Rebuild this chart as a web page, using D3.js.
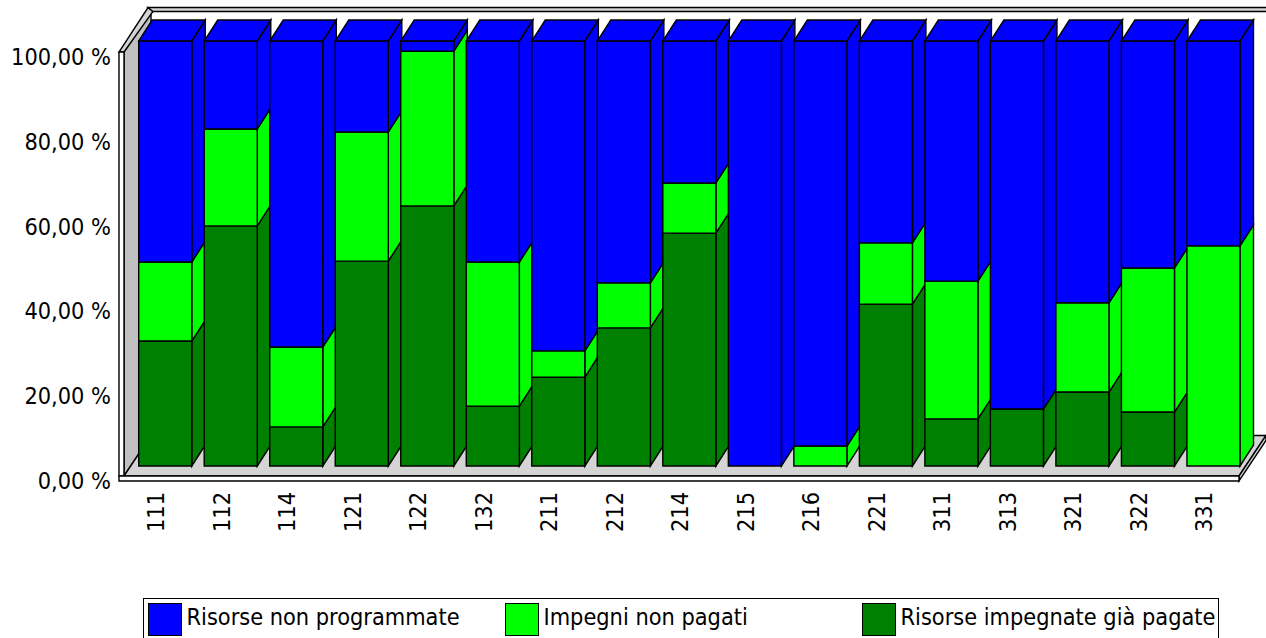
<!DOCTYPE html>
<html lang="en">
<head>
  <meta charset="utf-8">
  <title>Risorse</title>
  <script src="https://d3js.org/d3.v7.min.js"></script>
  <style>
    html, body { margin: 0; padding: 0; background: #fff; overflow: hidden; }
    text { font-family: "DejaVu Sans Condensed", "DejaVu Sans", sans-serif; font-stretch: condensed; fill: #000; }
  </style>
</head>
<body>
  <svg id="chart" width="1266" height="638"></svg>

  <script>
    const categories = ["111","112","114","121","122","132","211","212","214","215","216","221","311","313","321","322","331"];
    const pagate     = [29.4,56.5,9.2,48.2,61.2,14.1,20.9,32.5,54.8,0,0,38.1,11.1,13.4,17.4,12.7,0];
    const nonPagati  = [18.6,22.8,18.8,30.4,36.4,33.9,6.2,10.6,11.8,0,4.7,14.4,32.4,0,21.0,33.9,51.8];
    const nonProg    = [52.0,20.7,72.0,21.4,2.4,52.0,72.9,56.9,33.4,100,95.3,47.5,56.5,86.6,61.6,53.4,48.2];
    const seriesNames = ["Risorse impegnate già pagate","Impegni non pagati","Risorse non programmate"];
    const seriesColors = ["#008000","#00ff00","#0000ff"];
    const legendOrder = [2, 1, 0];
    const yTicks = [0, 20, 40, 60, 80, 100];

    const svg = d3.select("#chart");

    // bar depth, and depth of the whole box
    const dx = 13.5, dy = 21;
    const boxDx = 27, boxDy = 40.5;
    const lineW = 1.4;
    const fontSize = "23.3px";

    const x = d3.scaleBand().domain(categories).range([138.7, 1240]).paddingInner(0.19);
    const y = d3.scaleLinear().domain([0, 100]).range([466, 41]);
    // the labels sit on the front edge of the walls
    const yLabel = d3.scaleLinear().domain([0, 100]).range([481, 57]);

    const poly = (pts, fill) => svg.append("polygon")
      .attr("points", pts.map(p => p.join(",")).join(" "))
      .attr("fill", fill)
      .attr("stroke", "#000")
      .attr("stroke-width", lineW);

    // walls
    const L = 124, R = 1239, B = 476, T = 52;
    poly([[L, B], [L + boxDx, B - boxDy], [L + boxDx, T - boxDy], [L, T]], "#c0c0c0");
    poly([[L, B], [R, B], [R + boxDx, B - boxDy], [L + boxDx, B - boxDy]], "#d4d4d4");
    poly([[L - 5, T], [L, T], [L + boxDx + 2, T - boxDy], [L + boxDx - 3, T - boxDy - 4]], "#d4d4d4");
    poly([[L + boxDx - 3, T - boxDy - 4], [1270, T - boxDy - 4], [1270, T - boxDy], [L + boxDx + 2, T - boxDy]], "#d4d4d4");
    poly([[R, B], [R, B + 5], [R + boxDx, B + 5 - boxDy], [R + boxDx, B - boxDy]], "#d4d4d4");
    poly([[L - 5, T], [L, T], [L, B], [L - 5, B]], "#fff");
    poly([[L - 5, B], [R, B], [R, B + 5], [L - 5, B + 5]], "#fff");

    // bars
    const table = categories.map((c, i) => ({ c, s0: pagate[i], s1: nonPagati[i], s2: nonProg[i] }));
    const stacked = d3.stack().keys(["s0", "s1", "s2"])(table);

    categories.forEach((c, i) => {
      const x0 = x(c), x1 = x0 + x.bandwidth();
      stacked.forEach((layer, k) => {
        const [v0, v1] = layer[i];
        if (v1 - v0 <= 0) return;
        const color = seriesColors[k];
        poly([[x1, y(v0)], [x1 + dx, y(v0) - dy], [x1 + dx, y(v1) - dy], [x1, y(v1)]], color);
        poly([[x0, y(v0)], [x1, y(v0)], [x1, y(v1)], [x0, y(v1)]], color);
        if (v1 >= 99.99) {
          poly([[x0, y(v1)], [x1, y(v1)], [x1 + dx, y(v1) - dy], [x0 + dx, y(v1) - dy]], color);
        }
      });
    });

    // axes
    const yAxis = d3.axisLeft(yLabel)
      .tickValues(yTicks)
      .tickSize(0)
      .tickPadding(8)
      .tickFormat(d => d3.format(".2f")(d).replace(".", ",") + " %");
    const yG = svg.append("g").attr("transform", "translate(119,0)").call(yAxis);
    yG.select(".domain").remove();
    yG.selectAll("text").style("font-size", fontSize);

    const xAxis = d3.axisBottom(x).tickSize(0);
    const xG = svg.append("g").attr("transform", "translate(0,492)").call(xAxis);
    xG.select(".domain").remove();
    xG.selectAll("text")
      .attr("text-anchor", "end")
      .attr("dy", null)
      .attr("y", 0)
      .attr("transform", d => `translate(${17 - x.bandwidth() / 2},0) rotate(-90)`)
      .attr("dominant-baseline", "central")
      .style("font-size", fontSize);

    // legend
    svg.append("rect")
      .attr("x", 143.5).attr("y", 598.5)
      .attr("width", 1075).attr("height", 50)
      .attr("fill", "#fff").attr("stroke", "#000");
    const legendX = [148.5, 505.5, 862.5];
    legendOrder.forEach((k, i) => {
      svg.append("rect")
        .attr("x", legendX[i]).attr("y", 603.5)
        .attr("width", 33).attr("height", 32)
        .attr("fill", seriesColors[k]).attr("stroke", "#000");
      svg.append("text")
        .attr("x", legendX[i] + 38).attr("y", 625)
        .style("font-size", fontSize)
        .text(seriesNames[k]);
    });
  </script>
</body>
</html>
